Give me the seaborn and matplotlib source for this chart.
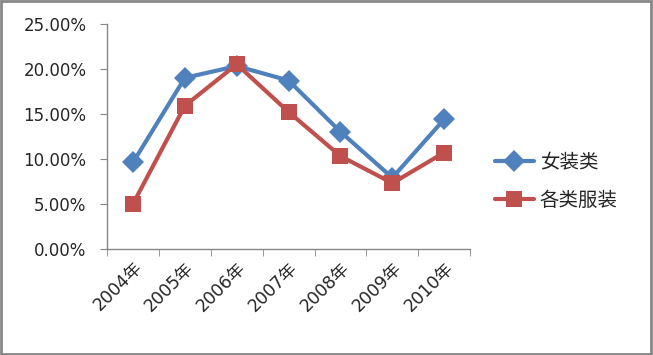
import pandas as pd
import seaborn as sns
import matplotlib.pyplot as plt
from matplotlib.patches import Rectangle
from matplotlib.ticker import PercentFormatter, FixedLocator

years = ['2004年', '2005年', '2006年', '2007年', '2008年', '2009年', '2010年']
women = [9.6, 19.0, 20.3, 18.7, 13.0, 7.9, 14.4]
all_clothing = [5.0, 15.9, 20.5, 15.2, 10.3, 7.3, 10.7]
series_names = ['女装类', '各类服装']

sns.set_style('white')
plt.rcParams['font.family'] = ['DejaVu Sans', 'Noto Sans CJK SC']

df = pd.DataFrame({'year': years * 2,
                   'value': women + all_clothing,
                   'series': [series_names[0]] * 7 + [series_names[1]] * 7})
df['x'] = list(range(7)) * 2

fig = plt.figure(figsize=(6.53, 3.55), dpi=100)
ax = fig.add_axes([0.164, 0.299, 0.556, 0.634])

palette = {'女装类': '#4F81BD', '各类服装': '#C0504D'}
sns.lineplot(data=df, x='x', y='value', hue='series', style='series',
             markers={'女装类': 'D', '各类服装': 's'}, dashes=False,
             palette=palette, linewidth=3, markersize=11, markeredgewidth=0,
             ax=ax)

ax.set_xlim(-0.5, 6.5)
ax.set_ylim(0, 25)
ax.set_yticks([0, 5, 10, 15, 20, 25])
ax.yaxis.set_major_formatter(PercentFormatter(decimals=2))
ax.set_xticks(range(7))
ax.set_xticklabels(years, rotation=45, ha='right', rotation_mode='anchor')
ax.xaxis.set_minor_locator(FixedLocator([i - 0.5 for i in range(8)]))
ax.tick_params(axis='x', which='major', length=0, labelsize=12.5, pad=7)
ax.tick_params(axis='x', which='minor', length=5, color='#868686', bottom=True)
ax.tick_params(axis='y', length=5, color='#868686', labelsize=12, left=True, pad=10)
ax.set_xlabel('')
ax.set_ylabel('')
for s in ['top', 'right']:
    ax.spines[s].set_visible(False)
for s in ['left', 'bottom']:
    ax.spines[s].set_color('#868686')
    ax.spines[s].set_linewidth(1)

leg = ax.legend(title=None, frameon=False, loc='center left',
                bbox_to_anchor=(1.02, 0.3), handlelength=2.0,
                labelspacing=0.85, handletextpad=0.3,
                prop={'family': ['Noto Sans CJK SC'], 'size': 14})

fig.patches.append(Rectangle((0.002, 0.003), 0.995, 0.993, transform=fig.transFigure,
                             fill=False, edgecolor='#868686', linewidth=2))

fig.savefig('out.png', dpi=100)
